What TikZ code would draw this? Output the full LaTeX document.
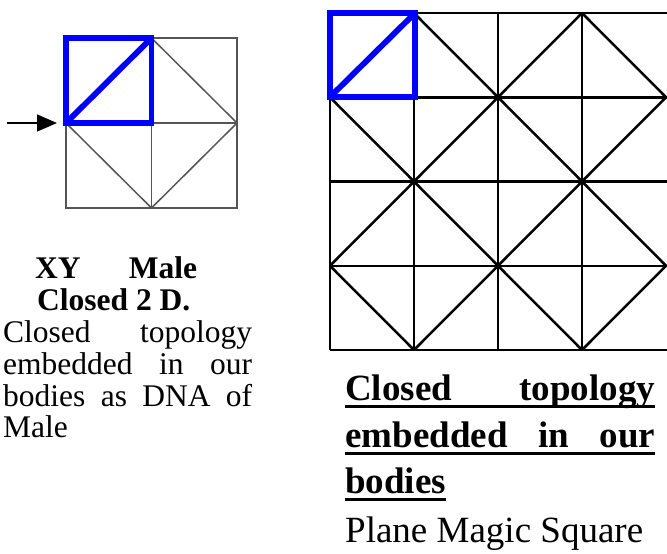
\documentclass[tikz,border=0pt]{standalone}
\usepackage{fontspec}
\setmainfont{Liberation Serif}
\usetikzlibrary{arrows.meta}
\definecolor{gridgrey}{HTML}{555555}
\definecolor{pureblue}{RGB}{0,0,255}
\tikzset{
  leftgrid/.style={draw=gridgrey, line width=1.5pt},
  rightgrid/.style={draw=black, line width=2.5pt},
  bluebox/.style={draw=pureblue, line width=5.8pt, line join=miter},
  lefttext/.style={anchor=base west, inner sep=0pt, font=\fontsize{31.5}{32}\selectfont},
  righttext/.style={anchor=base west, inner sep=0pt, font=\fontsize{37}{46}\selectfont},
  uline/.style={line width=3pt},
  arrowline/.style={line width=1.3pt, -{Triangle[length=20pt,width=17pt]}}
}
\begin{document}
\begin{tikzpicture}[x=1pt,y=-1pt]
\useasboundingbox (0,0) rectangle (667,554);
% ---------- left 2x2 grid ----------
\draw[leftgrid] (66,38) rectangle (237,208);
\draw[leftgrid] (151.5,38) -- (151.5,208);
\draw[leftgrid] (66,123) -- (237,123);
\draw[leftgrid] (151.5,38) -- (237,123) -- (151.5,208) -- (66,123);
\draw[bluebox] (66,38) rectangle (151.5,123);
\draw[bluebox] (66,123) -- (151.5,38);
% arrow
\coordinate (arrS) at (7,123);
\coordinate (arrE) at (57,123);
\draw[arrowline] (arrS) -- (arrE);
% ---------- right 4x4 grid ----------
\foreach \j in {0,...,4} {
  \draw[rightgrid] (330,{13+84.25*\j}) -- (668,{13+84.25*\j});
}
\foreach \i in {0,...,3} {
  \draw[rightgrid] ({330+84*\i},13) -- ({330+84*\i},350);
}
\foreach \i in {0,...,3} {
  \foreach \j in {0,...,3} {
    \pgfmathtruncatemacro\parity{mod(\i+\j,2)}
    \ifnum\parity=0
      \draw[rightgrid, line cap=round] ({330+84*(\i+1)},{13+84.25*\j}) -- ({330+84*\i},{13+84.25*(\j+1)});
    \else
      \draw[rightgrid, line cap=round] ({330+84*\i},{13+84.25*\j}) -- ({330+84*(\i+1)},{13+84.25*(\j+1)});
    \fi
  }
}
\draw[bluebox] (330,13) rectangle (415,97);
\draw[bluebox] (330,97) -- (415,13);
% ---------- left text ----------
\node[lefttext] (l1) at (35,278) {\bfseries\makebox[162pt][s]{XY Male}};
\node[lefttext] (l2) at (37,310) {\bfseries Closed 2 D.};
\node[lefttext] (l3) at (3,342) {\makebox[249pt][s]{Closed topology}};
\node[lefttext] (l4) at (3,374) {\makebox[249pt][s]{embedded in our}};
\node[lefttext] (l5) at (3,406) {\makebox[249pt][s]{bodies as DNA of}};
\node[lefttext] (l6) at (3,437) {Male};
% ---------- right text ----------
\node[righttext] (r1) at (345,400) {\bfseries\makebox[310pt][s]{Closed topology}};
\node[righttext] (r2) at (345,447) {\bfseries\makebox[310pt][s]{embedded in our}};
\node[righttext] (r3) at (345,493) {\bfseries bodies};
\node[righttext] (r4) at (345,542) {Plane Magic Square};
\draw[uline] ([yshift=-6pt]r1.base west) -- ([yshift=-6pt]r1.base east);
\draw[uline] ([yshift=-6pt]r2.base west) -- ([yshift=-6pt]r2.base east);
\draw[uline] ([yshift=-6pt]r3.base west) -- ([yshift=-6pt]r3.base east);
\end{tikzpicture}
\end{document}
